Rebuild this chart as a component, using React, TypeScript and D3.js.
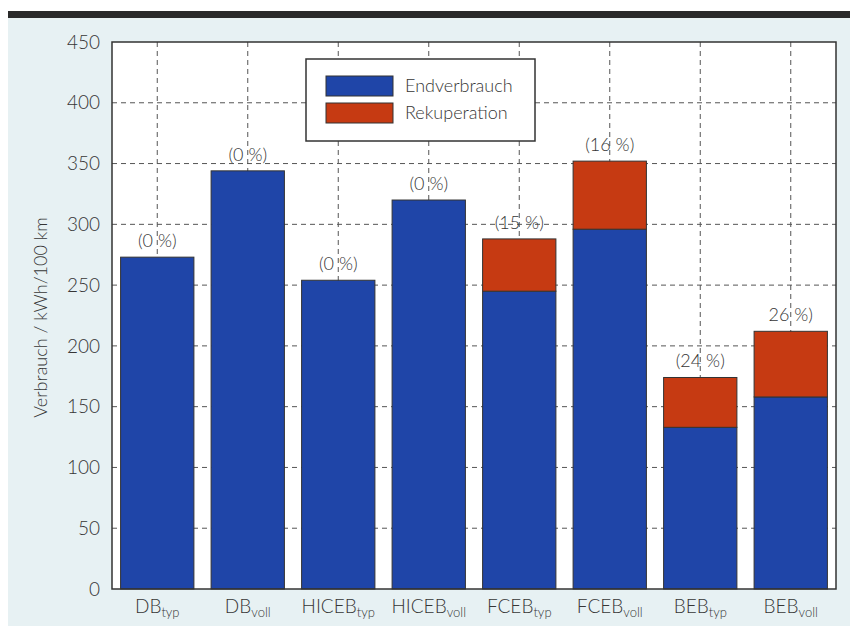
import React, { useEffect, useRef } from "react";
import * as d3 from "d3";

const categories = ["DB", "DB", "HICEB", "HICEB", "FCEB", "FCEB", "BEB", "BEB"];
const subscripts = ["typ", "voll", "typ", "voll", "typ", "voll", "typ", "voll"];
const endverbrauch = [273, 344, 254, 320, 245, 296, 133, 158];
const rekuperation = [0, 0, 0, 0, 43, 56, 41, 54];
const shareLabels = ["(0 %)", "(0 %)", "(0 %)", "(0 %)", "(15 %)", "(16 %)", "(24 %)", "26 %)"];
const yTicks = [0, 50, 100, 150, 200, 250, 300, 350, 400, 450];
const legendItems = ["Endverbrauch", "Rekuperation"];

const width = 850;
const height = 626;
const margin = { top: 42, right: 14, bottom: 37, left: 112 };
const blue = "#1f45a8";
const red = "#c63a12";
const textColor = "#363636";
const font = "Lato, 'Open Sans', sans-serif";
const weight = 300;

const App = () => {
  const ref: any = useRef();

  useEffect(() => {
    document.body.style.margin = "0";
    const svg = d3.select(ref.current);
    svg.selectAll("*").remove();

    const ids = categories.map((c, i) => c + "_" + subscripts[i]);
    const x = d3
      .scaleBand()
      .domain(ids)
      .range([margin.left, width - margin.right])
      .paddingInner(0.19)
      .paddingOuter(0.095);
    const y = d3
      .scaleLinear()
      .domain([0, 450])
      .range([height - margin.bottom, margin.top]);

    // page background and the dark rule at the top
    svg.append("rect").attr("width", width).attr("height", height).attr("fill", "#fff");
    svg
      .append("rect")
      .attr("x", 8)
      .attr("y", 17)
      .attr("width", width - 8)
      .attr("height", height - 17)
      .attr("fill", "#e7f1f3");
    svg
      .append("rect")
      .attr("x", 8)
      .attr("y", 11)
      .attr("width", width - 8)
      .attr("height", 7)
      .attr("fill", "#2a2a2a");

    // plot area
    svg
      .append("rect")
      .attr("x", margin.left)
      .attr("y", margin.top)
      .attr("width", width - margin.left - margin.right)
      .attr("height", height - margin.top - margin.bottom)
      .attr("fill", "#fff");

    // grid lines
    const grid = svg.append("g").attr("stroke", "#555").attr("stroke-width", 1).attr("stroke-dasharray", "5,4");
    grid
      .selectAll(".hgrid")
      .data(yTicks.slice(1, -1))
      .enter()
      .append("line")
      .attr("x1", margin.left)
      .attr("x2", width - margin.right)
      .attr("y1", (d: any) => y(d))
      .attr("y2", (d: any) => y(d));
    grid
      .selectAll(".vgrid")
      .data(ids)
      .enter()
      .append("line")
      .attr("x1", (d: any) => (x(d) as number) + x.bandwidth() / 2)
      .attr("x2", (d: any) => (x(d) as number) + x.bandwidth() / 2)
      .attr("y1", margin.top)
      .attr("y2", height - margin.bottom);

    // stacked bars
    const bars = svg.append("g").attr("stroke", "#333").attr("stroke-width", 1);
    bars
      .selectAll(".blue")
      .data(ids)
      .enter()
      .append("rect")
      .attr("x", (d: any) => x(d) as number)
      .attr("width", x.bandwidth())
      .attr("y", (d: any, i: number) => y(endverbrauch[i]))
      .attr("height", (d: any, i: number) => y(0) - y(endverbrauch[i]))
      .attr("fill", blue);
    bars
      .selectAll(".red")
      .data(ids.filter((d, i) => rekuperation[i] > 0))
      .enter()
      .append("rect")
      .attr("x", (d: any) => x(d) as number)
      .attr("width", x.bandwidth())
      .attr("y", (d: any) => {
        const i = ids.indexOf(d);
        return y(endverbrauch[i] + rekuperation[i]);
      })
      .attr("height", (d: any) => {
        const i = ids.indexOf(d);
        return y(endverbrauch[i]) - y(endverbrauch[i] + rekuperation[i]);
      })
      .attr("fill", red);

    // share labels above bars
    svg
      .selectAll(".share")
      .data(ids)
      .enter()
      .append("text")
      .attr("x", (d: any) => (x(d) as number) + x.bandwidth() / 2)
      .attr("y", (d: any, i: number) => y(endverbrauch[i] + rekuperation[i]) - 10)
      .attr("text-anchor", "middle")
      .attr("font-family", font)
      .attr("font-weight", weight)
      .attr("font-size", 18)
      .attr("fill", textColor)
      .text((d: any, i: number) => shareLabels[i]);

    // plot frame
    svg
      .append("rect")
      .attr("x", margin.left)
      .attr("y", margin.top)
      .attr("width", width - margin.left - margin.right)
      .attr("height", height - margin.top - margin.bottom)
      .attr("fill", "none")
      .attr("stroke", "#333")
      .attr("stroke-width", 1.5);

    // y axis labels
    svg
      .selectAll(".ytick")
      .data(yTicks)
      .enter()
      .append("text")
      .attr("x", margin.left - 12)
      .attr("y", (d: any) => y(d))
      .attr("dy", "0.35em")
      .attr("text-anchor", "end")
      .attr("font-family", font)
      .attr("font-weight", weight)
      .attr("font-size", 19)
      .attr("fill", textColor)
      .text((d: any) => d);

    svg
      .append("text")
      .attr("transform", "translate(47," + (margin.top + (height - margin.top - margin.bottom) / 2 + 2) + ") rotate(-90)")
      .attr("text-anchor", "middle")
      .attr("font-family", font)
      .attr("font-weight", weight)
      .attr("font-size", 18)
      .attr("fill", textColor)
      .text("Verbrauch / kWh/100 km");

    // x axis labels with subscripts
    const xl = svg
      .selectAll(".xtick")
      .data(ids)
      .enter()
      .append("text")
      .attr("x", (d: any) => (x(d) as number) + x.bandwidth() / 2)
      .attr("y", height - 13)
      .attr("text-anchor", "middle")
      .attr("font-family", font)
      .attr("font-weight", weight)
      .attr("font-size", 19)
      .attr("fill", textColor);
    xl.append("tspan").text((d: any, i: number) => categories[i]);
    xl.append("tspan")
      .attr("font-size", 13)
      .attr("dy", 4)
      .text((d: any, i: number) => subscripts[i]);

    // legend
    const legend = svg.append("g").attr("transform", "translate(306,59)");
    legend
      .append("rect")
      .attr("width", 229)
      .attr("height", 82)
      .attr("fill", "#fff")
      .attr("stroke", "#333")
      .attr("stroke-width", 1.5);
    legendItems.forEach((name, i) => {
      legend
        .append("rect")
        .attr("x", 20)
        .attr("y", 17 + i * 27)
        .attr("width", 67)
        .attr("height", 20)
        .attr("fill", i === 0 ? blue : red)
        .attr("stroke", "#333")
        .attr("stroke-width", 1);
      legend
        .append("text")
        .attr("x", 99)
        .attr("y", 27 + i * 27)
        .attr("dy", "0.35em")
        .attr("font-family", font)
        .attr("font-weight", weight)
        .attr("font-size", 18)
        .attr("fill", textColor)
        .text(name);
    });
  }, []);

  return <svg ref={ref} width={width} height={height} style={{ display: "block" }}></svg>;
};

export default App;
